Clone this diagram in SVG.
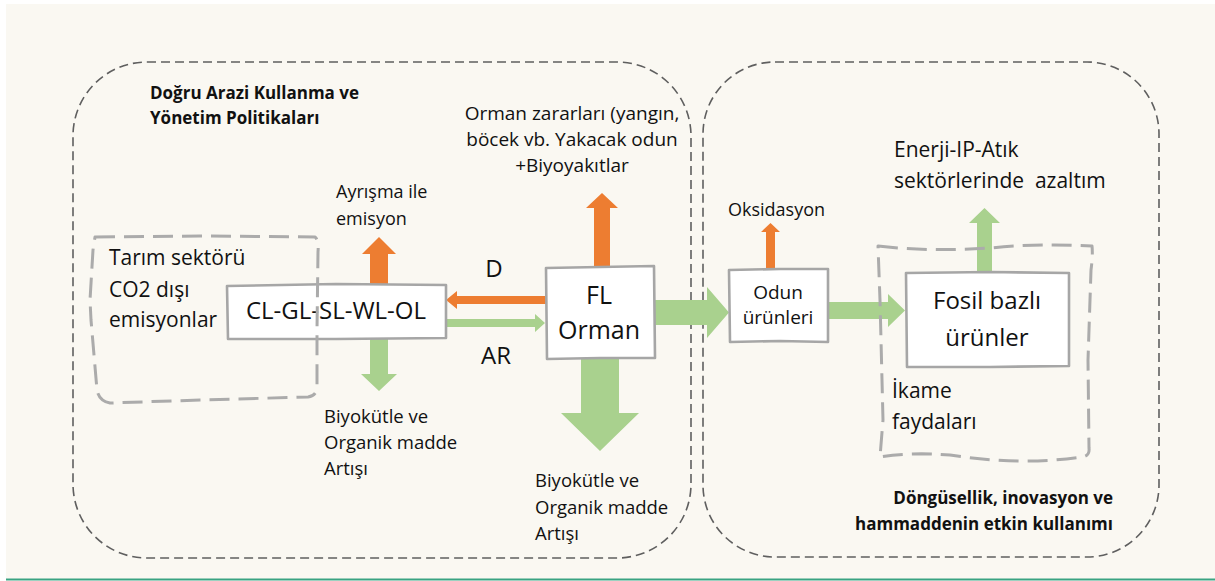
<svg xmlns="http://www.w3.org/2000/svg" width="1215" height="581" viewBox="0 0 1215 581">
<style>
.bg{fill:#faf8f2}
.big{fill:none;stroke:#5f5f5f;stroke-width:1.6;stroke-dasharray:9 5}
.inner{fill:none;stroke:#ababab;stroke-width:3;stroke-dasharray:20 9;stroke-linejoin:round}
.box{fill:#ffffff;stroke:#a6a6a6;stroke-width:2.6;stroke-linejoin:round}
.or{fill:#ed7d31}
.gr{fill:#a9d18e}
text{font-family:"Open Sans","Liberation Sans",sans-serif;fill:#111111}
.t18{font-size:18px}
.t185{font-size:18.5px}
.t19{font-size:19px}
.t21{font-size:21px}
.t24{font-size:24px}
.t25{font-size:25px}
.b{font-weight:bold;font-size:17px}
.mid{text-anchor:middle}
.end{text-anchor:end}
</style>
<rect x="6" y="4" width="1209" height="575" class="bg"/>
<line x1="6" y1="579.5" x2="1215" y2="579.5" stroke="#3aa382" stroke-width="2"/>

<g id="region-left">
<rect x="73" y="62" width="618" height="496" rx="74" ry="74" class="big"/>
<text class="b" x="150" y="99">Doğru Arazi Kullanma ve</text>
<text class="b" x="150" y="124">Yönetim Politikaları</text>
</g>
<g id="region-right">
<rect x="703" y="62" width="456" height="495" rx="72" ry="72" class="big"/>
<text class="b end" x="1113" y="504">Döngüsellik, inovasyon ve</text>
<text class="b end" x="1113" y="530">hammaddenin etkin kullanımı</text>
</g>

<g id="connectors">
<polygon class="or" points="370,286 370,254 362,254 379,237 396,254 388,254 388,286"/>
<polygon class="gr" points="370,338 388,338 388,374 397,374 379,391 361,374 370,374"/>
<polygon class="or" points="548,296 457,296 457,291 446,300 457,309 457,304 548,304"/>
<polygon class="gr" points="446,319 535,319 535,314 545,323 535,332 535,327 446,327"/>
<polygon class="or" points="594,268 594,208 586,208 602,193 618,208 610,208 610,268"/>
<polygon class="gr" points="655,300 707,300 707,287 729,312.5 707,338 707,325 655,325"/>
<polygon class="gr" points="581,358 619,358 619,413 639,413 600,451 561,413 581,413"/>
<polygon class="or" points="766,269 766,232 761,232 770.5,223 780,232 775,232 775,269"/>
<polygon class="gr" points="828,302 888,302 888,294 905,310.5 888,327 888,319 828,319"/>
<polygon class="gr" points="977,272 977,223 969,223 984.5,208 1000,223 992,223 992,272"/>
</g>

<g id="node-cl">
<path class="box" d="M227,286 L336,284 L446,285 L446,338 L336,339 L228,339 Z"/>
<text class="t24 mid" x="336" y="319">CL-GL-SL-WL-OL</text>
</g>
<g id="node-tarim">
<path class="inner" d="M95,237 L200,236 L315,237 Q319,240 318,252 L317,330 L317,388 Q316,396 308,397 L200,400 L110,403 Q99,401 97,390 L91,320 L90,300 L93,250 Z"/>
<text class="t21" x="109" y="265">Tarım sektörü</text>
<text class="t21" x="109" y="297">CO2 dışı</text>
<text class="t21" x="109" y="327">emisyonlar</text>
</g>
<g id="node-fl">
<path class="box" d="M546,268 L600,267 L654,266 L655,358 L600,358 L547,359 Z"/>
<text class="t25 mid" x="599" y="304">FL</text>
<text class="t25 mid" x="599" y="339">Orman</text>
</g>
<g id="node-odun">
<path class="box" d="M729,270 L780,269 L828,269 L828,342 L780,341 L730,342 Z"/>
<text class="t19 mid" x="778" y="299">Odun</text>
<text class="t19 mid" x="778" y="324">ürünleri</text>
</g>
<g id="node-ikame">
<path class="inner" d="M878,246 Q930,252 990,248 Q1040,243 1092,246 Q1093,255 1091,270 L1088,360 L1089,448 Q1090,456 1082,457 Q1020,466 950,455 Q910,452 880,457 L883,420 L882,380 L880,300 Z"/>
<text class="t21" x="892" y="398">İkame</text>
<text class="t21" x="892" y="429">faydaları</text>
</g>
<g id="node-fosil">
<path class="box" d="M906,273 L990,272 L1069,273 L1069,366 L990,367 L907,367 Z"/>
<text class="t24 mid" x="987" y="309">Fosil bazlı</text>
<text class="t24 mid" x="987" y="346">ürünler</text>
</g>

<g id="labels">
<text class="t18" x="336" y="198">Ayrışma ile</text>
<text class="t18" x="336" y="225">emisyon</text>
<text class="t19 mid" x="572" y="120">Orman zararları (yangın,</text>
<text class="t19 mid" x="572" y="146">böcek vb. Yakacak odun</text>
<text class="t19 mid" x="572" y="172">+Biyoyakıtlar</text>
<text class="t24 mid" x="494" y="277">D</text>
<text class="t24 mid" x="496" y="364">AR</text>
<text class="t185" x="324" y="423">Biyokütle ve</text>
<text class="t185" x="324" y="449">Organik madde</text>
<text class="t185" x="324" y="475">Artışı</text>
<text class="t185" x="535" y="487">Biyokütle ve</text>
<text class="t185" x="535" y="514">Organik madde</text>
<text class="t185" x="535" y="540">Artışı</text>
<text class="t18" x="728" y="216">Oksidasyon</text>
<text class="t21" x="894" y="157">Enerji-IP-Atık</text>
<text class="t21" x="894" y="188" style="white-space:pre">sektörlerinde  azaltım</text>
</g>
</svg>
